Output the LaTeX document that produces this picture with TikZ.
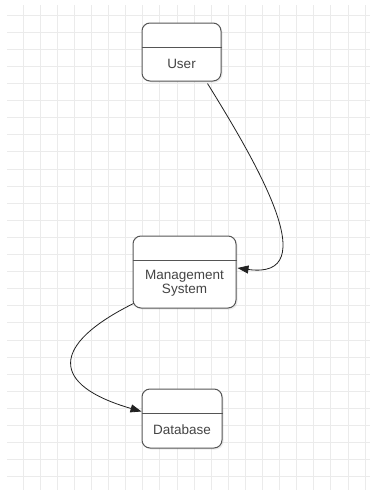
\documentclass[tikz,border=0pt]{standalone}
\usepackage{fontspec}
\setmainfont{Liberation Sans}
\usetikzlibrary{arrows.meta,calc,shadows}
\definecolor{gridc}{HTML}{EBEBEB}
\definecolor{boxline}{HTML}{555555}
\definecolor{txt}{HTML}{444444}
\definecolor{arr}{HTML}{222222}
\tikzset{
  entity/.style={draw=boxline, line width=1pt, rounded corners=8pt, fill=white,
    drop shadow={shadow xshift=1.5pt, shadow yshift=-1.5pt, opacity=0.15}},
  divider/.style={draw=boxline, line width=1pt},
  label/.style={text=txt, font=\fontsize{13.5}{14}\selectfont, align=center, inner sep=0pt},
  flow/.style={draw=arr, line width=0.8pt, -{Triangle[length=11pt,width=8pt]}},
  gridline/.style={draw=gridc, line width=0.7pt}
}
\begin{document}
\begin{tikzpicture}[x=1pt,y=-1pt]
\useasboundingbox (0,0) rectangle (370,490);
\fill[white] (0,0) rectangle (370,490);
% grid
\foreach \k in {0,...,20} {\draw[gridline] (23+17.1*\k,5) -- (23+17.1*\k,490);}
\foreach \k in {0,...,27} {\draw[gridline] (7,15+17.1*\k) -- (370,15+17.1*\k);}
% boxes
\node[entity, minimum width=79pt, minimum height=58pt] (user) at (181.5,52) {};
\node[entity, minimum width=103pt, minimum height=72pt] (mgmt) at (184.5,272) {};
\node[entity, minimum width=80pt, minimum height=59pt] (db) at (182,418.5) {};
% dividers
\coordinate (u1) at (user.west |- 0,47);
\coordinate (u2) at (user.east |- 0,47);
\draw[divider] (u1) -- (u2);
\coordinate (m1) at (mgmt.west |- 0,260);
\coordinate (m2) at (mgmt.east |- 0,260);
\draw[divider] (m1) -- (m2);
\coordinate (d1) at (db.west |- 0,413);
\coordinate (d2) at (db.east |- 0,413);
\draw[divider] (d1) -- (d2);
% labels
\node[label] (userlbl) at (181.5,64) {User};
\node[label] (mgmtlbl) at (184.5,283.5) {Management\\System};
\node[label] (dblbl) at (182,429.5) {Database};
% connectors
\coordinate (s1) at ($(user.south east)+(-14,2)$);
\coordinate (e1) at ($(mgmt.east)+(1,-4)$);
\draw[flow] (s1) .. controls (258,165) and (325,280) .. (e1);
\coordinate (s2) at ($(mgmt.south west)+(1,-5)$);
\coordinate (e2) at ($(db.west)+(0,-7)$);
\draw[flow] (s2) .. controls (50,345) and (50,385) .. (e2);
\end{tikzpicture}
\end{document}
